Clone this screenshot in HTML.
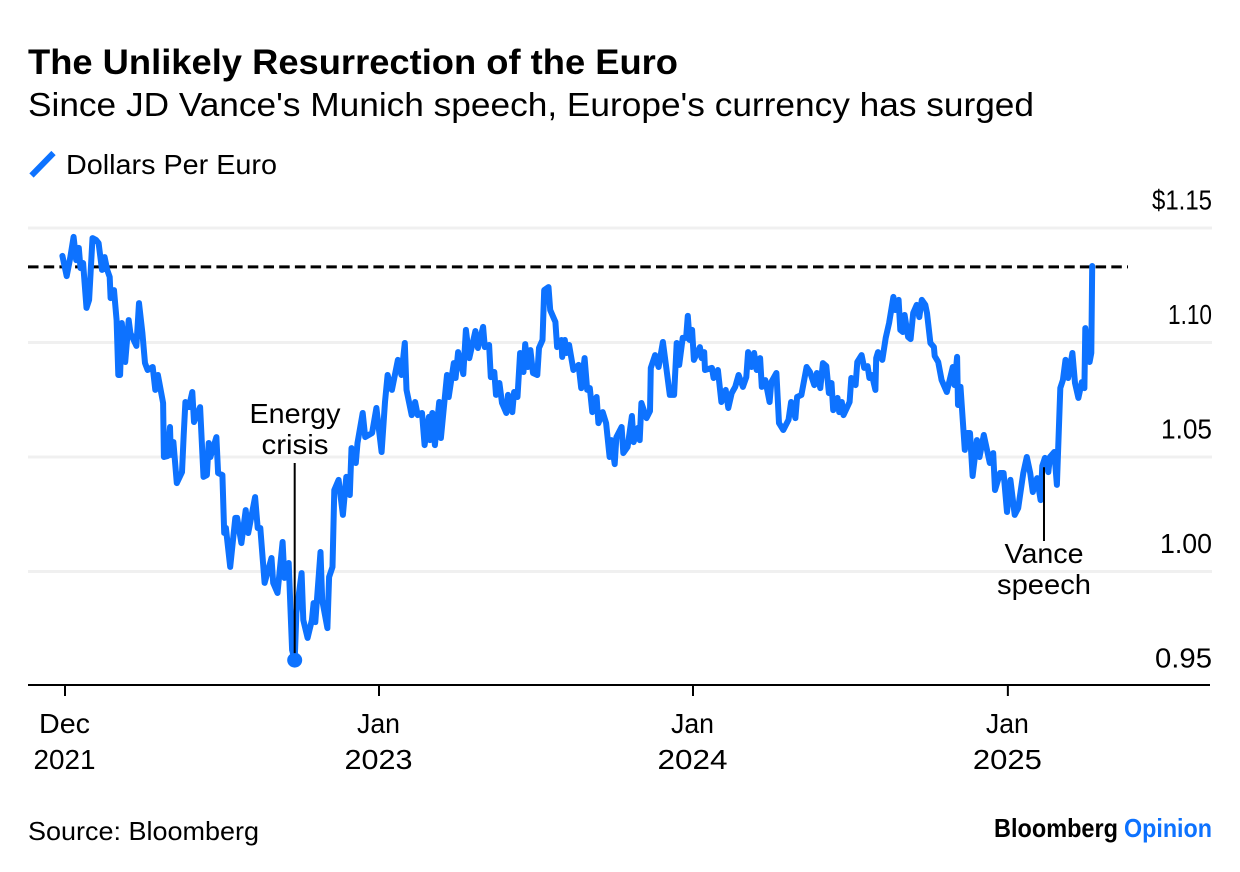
<!DOCTYPE html>
<html lang="en">
<head>
<meta charset="utf-8">
<title>The Unlikely Resurrection of the Euro</title>
<style>
html,body{margin:0;padding:0;background:#fff;width:1240px;height:872px;overflow:hidden}
svg{display:block}
text{font-family:"Liberation Sans",sans-serif;fill:#000}
.lbl{font-size:28px}
</style>
</head>
<body>
<svg id="chart" xmlns="http://www.w3.org/2000/svg" width="1240" height="872" viewBox="0 0 1240 872">
  <rect x="0" y="0" width="1240" height="872" fill="#fff"/>
  <text x="28" y="74" font-size="35.5" font-weight="700" textLength="650" lengthAdjust="spacingAndGlyphs">The Unlikely Resurrection of the Euro</text>
  <text x="28" y="116" font-size="33" textLength="1006" lengthAdjust="spacingAndGlyphs">Since JD Vance's Munich speech, Europe's currency has surged</text>
  <line x1="31.5" y1="175.5" x2="53.5" y2="153" stroke="#0d72ff" stroke-width="6"/>
  <text x="66" y="174" font-size="28" textLength="211" lengthAdjust="spacingAndGlyphs">Dollars Per Euro</text>
  <g id="grid"></g>
  <g id="yticks"></g>
  <line id="refline" x1="28" x2="1128" stroke="#000" stroke-width="3" stroke-dasharray="10.5 5.2"/>
  <path id="series" fill="none" stroke="#0d72ff" stroke-width="6" stroke-linejoin="round" stroke-linecap="round"/>
  <circle id="lowDot" r="7.5" fill="#0d72ff"/>
  <line id="energyLeader" stroke="#000" stroke-width="2"/>
  <line id="vanceLeader" stroke="#000" stroke-width="2"/>
  <text x="295" y="423" class="lbl" text-anchor="middle" textLength="91" lengthAdjust="spacingAndGlyphs">Energy</text>
  <text x="295" y="454" class="lbl" text-anchor="middle" textLength="67" lengthAdjust="spacingAndGlyphs">crisis</text>
  <text x="1044" y="563" class="lbl" text-anchor="middle" textLength="79" lengthAdjust="spacingAndGlyphs">Vance</text>
  <text x="1044" y="594" class="lbl" text-anchor="middle" textLength="94" lengthAdjust="spacingAndGlyphs">speech</text>
  <line x1="28" y1="685" x2="1210" y2="685" stroke="#000" stroke-width="2"/>
  <g id="xticks"></g>
  <text x="28" y="840" font-size="26" textLength="231" lengthAdjust="spacingAndGlyphs">Source: Bloomberg</text>
  <text x="994" y="837" font-size="26" font-weight="700" textLength="124" lengthAdjust="spacingAndGlyphs">Bloomberg</text>
  <text x="1124" y="837" font-size="26" font-weight="700" textLength="88" lengthAdjust="spacingAndGlyphs" style="fill:#0d72ff">Opinion</text>
</svg>
<script>
// Days since 2022-01-01
const days = [-3,2,6,10,13,16,18,21,25,28,32,36,39,43,46,49,52,53,57,60,62,64,66,70,74,76,83,86,90,93,96,102,105,108,114,115,119,122,123,126,130,136,138,140,144,148,150,157,161,165,167,169,176,178,183,185,187,192,198,200,205,210,213,221,224,227,232,240,242,247,253,255,260,262,264,267,269,275,277,282,287,289,291,297,299,305,307,311,313,318,323,327,331,333,338,340,346,349,357,362,368,372,375,380,387,391,395,397,403,407,410,415,418,423,424,427,430,435,437,444,446,452,454,457,463,466,470,477,480,486,488,493,495,499,501,505,508,513,515,520,522,526,529,533,535,538,541,544,549,551,555,557,562,564,570,572,577,578,581,583,586,591,597,600,604,607,610,613,618,620,625,629,633,635,639,641,647,649,654,659,661,666,668,670,676,680,681,686,690,695,699,703,708,711,714,718,722,724,726,729,731,738,740,743,744,752,754,759,763,768,771,775,779,783,788,792,794,798,801,804,808,810,814,819,821,827,830,835,841,844,849,851,856,862,866,871,874,878,881,885,888,891,893,898,900,903,905,912,914,919,921,926,929,933,935,938,942,943,945,950,954,958,963,965,969,971,974,976,980,983,986,990,993,996,1000,1002,1006,1010,1011,1015,1019,1025,1032,1034,1037,1038,1041,1046,1049,1052,1055,1060,1063,1068,1075,1079,1081,1087,1091,1095,1099,1104,1108,1114,1118,1122,1125,1130,1134,1136,1139,1143,1145,1150,1153,1157,1160,1163,1166,1171,1174,1178,1182,1185,1186,1191,1193,1194];
// Dollars per euro
const rates = [1.1378,1.1290,1.1369,1.1461,1.1360,1.1413,1.1325,1.1347,1.1151,1.1186,1.1456,1.1448,1.1434,1.1317,1.1373,1.1317,1.1286,1.1194,1.1229,1.1098,1.0858,1.0858,1.1085,1.0915,1.1098,1.1041,1.0985,1.1172,1.1041,1.0910,1.0880,1.0893,1.0793,1.0858,1.0736,1.0500,1.0504,1.0631,1.0509,1.0565,1.0386,1.0434,1.0596,1.0740,1.0718,1.0784,1.0653,1.0718,1.0413,1.0421,1.0561,1.0500,1.0587,1.0430,1.0421,1.0168,1.0190,1.0020,1.0234,1.0234,1.0124,1.0268,1.0168,1.0325,1.0190,1.0190,0.9950,1.0059,0.9950,0.9906,1.0129,0.9972,1.0037,0.9845,0.9657,0.9613,0.9819,0.9993,0.9788,0.9710,0.9788,0.9862,0.9779,1.0085,0.9875,0.9753,0.9976,1.0020,1.0356,1.0400,1.0247,1.0413,1.0334,1.0539,1.0474,1.0561,1.0692,1.0587,1.0605,1.0714,1.0522,1.0740,1.0858,1.0793,1.0924,1.0858,1.0998,1.0793,1.0683,1.0740,1.0683,1.0692,1.0552,1.0675,1.0574,1.0692,1.0552,1.0740,1.0583,1.0858,1.0762,1.0910,1.0845,1.0958,1.0862,1.1055,1.0932,1.1050,1.0976,1.1068,1.0980,1.0989,1.0849,1.0871,1.0771,1.0823,1.0736,1.0692,1.0771,1.0696,1.0784,1.0762,1.0954,1.0871,1.0993,1.0893,1.0967,1.0867,1.0858,1.0976,1.1011,1.1229,1.1242,1.1142,1.1090,1.0980,1.1011,1.0937,1.1011,1.0954,1.0989,1.0880,1.0902,1.0801,1.0932,1.0793,1.0801,1.0696,1.0762,1.0648,1.0696,1.0648,1.0500,1.0574,1.0469,1.0587,1.0631,1.0517,1.0544,1.0679,1.0565,1.0627,1.0574,1.0736,1.0670,1.0701,1.0889,1.0945,1.0893,1.1002,1.0889,1.0771,1.0771,1.0998,1.0902,1.1020,1.1020,1.1116,1.1011,1.1055,1.0924,1.0980,1.0932,1.0958,1.0880,1.0889,1.0845,1.0880,1.0740,1.0793,1.0714,1.0779,1.0806,1.0858,1.0806,1.0849,1.0958,1.0893,1.0954,1.0880,1.0932,1.0806,1.0836,1.0740,1.0827,1.0867,1.0648,1.0618,1.0662,1.0740,1.0670,1.0762,1.0771,1.0893,1.0871,1.0814,1.0867,1.0801,1.0910,1.0897,1.0779,1.0823,1.0705,1.0758,1.0696,1.0740,1.0683,1.0740,1.0845,1.0814,1.0915,1.0945,1.0889,1.0897,1.0845,1.0858,1.0793,1.0932,1.0958,1.0924,1.1020,1.1085,1.1199,1.1142,1.1186,1.1055,1.1046,1.1120,1.1024,1.1015,1.1129,1.1164,1.1111,1.1186,1.1164,1.1129,1.0998,1.0980,1.0941,1.0915,1.0836,1.0784,1.0893,1.0814,1.0937,1.0727,1.0806,1.0531,1.0605,1.0605,1.0417,1.0574,1.0500,1.0596,1.0474,1.0517,1.0356,1.0430,1.0430,1.0260,1.0400,1.0247,1.0277,1.0430,1.0500,1.0430,1.0347,1.0408,1.0312,1.0461,1.0496,1.0434,1.0500,1.0522,1.0378,1.0801,1.0836,1.0924,1.0845,1.0954,1.0823,1.0758,1.0827,1.0801,1.1063,1.0915,1.0954,1.1334];
const yTickValues = [1.15,1.10,1.05,1.00,0.95];
const yTickLabels = ["$1.15","1.10","1.05","1.00","0.95"];
const gridValues = [1.15,1.10,1.05,1.00];
const xTickDays = [0,365,730,1096];
const xTickMonths = ["Dec","Jan","Jan","Jan"];
const xTickYears = ["2021","2023","2024","2025"];
const referenceRate = 1.133;
const lowDay = 267;
const lowRate = 0.9613;
const speechDay = 1138;
const speechRate = 1.0455;

const NS = 'http://www.w3.org/2000/svg';
function x(d){ return 65 + d * 314 / 365; }
function y(v){ return 228 + (1.15 - v) * 2290; }
// The reference typeface has a narrow "1"; approximate its advance widths.
const ADV = {'$':17,'.':6,'0':18,'1':10,'2':17,'3':16,'4':18,'5':17,'9':16,'J':13,'a':15,'n':15,'D':20,'e':16,'c':15};
function textWidth(s){ return s.split('').reduce(function(w,c){ return w + (ADV[c] || 16); }, 0); }

const grid = document.getElementById('grid');
gridValues.forEach(function(v){
  const l = document.createElementNS(NS,'line');
  l.setAttribute('x1',28);
  l.setAttribute('x2',1212);
  l.setAttribute('y1',y(v));
  l.setAttribute('y2',y(v));
  l.setAttribute('stroke','#f0f0f0');
  l.setAttribute('stroke-width',3);
  
  
  grid.appendChild(l);
});

const yt = document.getElementById('yticks');
yTickValues.forEach(function(v,i){
  const t = document.createElementNS(NS,'text');
  t.setAttribute('x',1212);
  t.setAttribute('y',y(v)-18.5);
  t.setAttribute('text-anchor','end');
  t.setAttribute('font-size','27.5');
  t.setAttribute('textLength',textWidth(yTickLabels[i]));
  t.setAttribute('lengthAdjust','spacingAndGlyphs');
  t.textContent = yTickLabels[i];
  
  
  yt.appendChild(t);
});

const xt = document.getElementById('xticks');
xTickDays.forEach(function(d,i){
  const px = x(d);
  const l = document.createElementNS(NS,'line');
  l.setAttribute('x1',px);
  l.setAttribute('x2',px);
  l.setAttribute('y1',685);
  l.setAttribute('y2',696);
  l.setAttribute('stroke','#000');
  l.setAttribute('stroke-width',2);
  
  
  xt.appendChild(l);
  [[xTickMonths[i],733],[xTickYears[i],769]].forEach(function(p){
    const t = document.createElementNS(NS,'text');
    t.setAttribute('x',px-0.5);
    t.setAttribute('y',p[1]);
    t.setAttribute('text-anchor','middle');
    t.setAttribute('font-size','27.5');
    t.setAttribute('textLength',textWidth(p[0]));
    t.setAttribute('lengthAdjust','spacingAndGlyphs');
    t.textContent = p[0];
    
    
    xt.appendChild(t);
  });
});

document.getElementById('series').setAttribute('d', days.map(function(d,i){
  return (i ? 'L' : 'M') + x(d).toFixed(1) + ' ' + y(rates[i]).toFixed(1);
}).join(''));

const ref = document.getElementById('refline');
ref.setAttribute('y1', y(referenceRate));
ref.setAttribute('y2', y(referenceRate));

const dot = document.getElementById('lowDot');
dot.setAttribute('cx', x(lowDay));
dot.setAttribute('cy', y(lowRate));

const el = document.getElementById('energyLeader');
el.setAttribute('x1', x(lowDay));
el.setAttribute('x2', x(lowDay));
el.setAttribute('y1', 463);
el.setAttribute('y2', y(lowRate) - 7);

const vl = document.getElementById('vanceLeader');
vl.setAttribute('x1', x(speechDay));
vl.setAttribute('x2', x(speechDay));
vl.setAttribute('y1', y(speechRate));
vl.setAttribute('y2', 541);
</script>
</body>
</html>
